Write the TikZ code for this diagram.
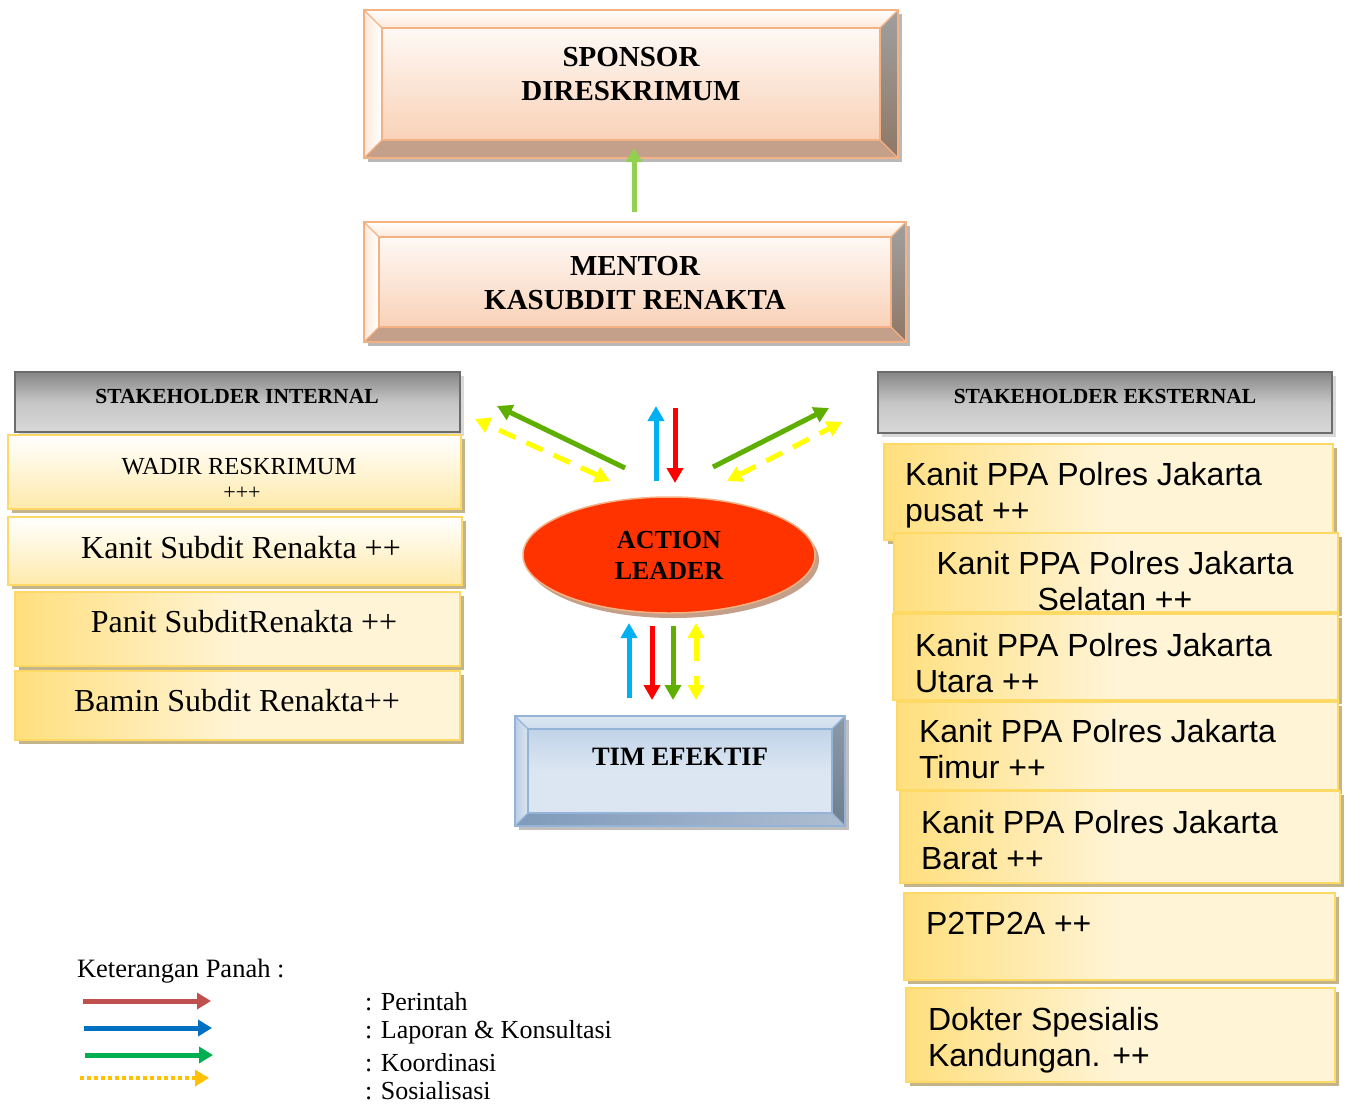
\documentclass[tikz,border=0pt]{standalone}
\usepackage{fontspec}
\setmainfont{Liberation Serif}
\newfontfamily\arial{Liberation Sans}
\usetikzlibrary{arrows.meta,shadows,shapes.geometric,calc}
\definecolor{peach}{HTML}{F4B183}
\definecolor{peachface}{HTML}{F8CBAD}
\definecolor{peachlight}{HTML}{FDE9D9}
\definecolor{peachbot}{HTML}{C4A08A}
\definecolor{peachrt}{HTML}{8F7866}
\definecolor{ygold}{HTML}{FFD966}
\definecolor{ycream}{HTML}{FFF4D6}
\definecolor{yshadow}{HTML}{C4B48A}
\definecolor{bedge}{HTML}{95B3D7}
\definecolor{bface}{HTML}{DCE6F2}
\definecolor{bface2}{HTML}{B9CDE5}
\definecolor{bbot}{HTML}{7F9ABB}
\definecolor{brt}{HTML}{6F7F90}
\definecolor{cblue}{HTML}{00B0F0}
\definecolor{cred}{HTML}{FF0000}
\definecolor{cgreen}{HTML}{5FAF00}
\definecolor{cyellow}{HTML}{FFFF00}
\definecolor{lgreen}{HTML}{92D050}
\definecolor{alred}{HTML}{FF3300}
\definecolor{lgred}{HTML}{C0504D}
\definecolor{lgblue}{HTML}{0070C0}
\definecolor{lggreen}{HTML}{00B050}
\definecolor{lgorange}{HTML}{FFC000}
\newcommand\mkbox[6]{%
  \pgfmathsetmacro\bw{#4-#2}\pgfmathsetmacro\bh{#5-#3}%
  \pgfmathsetmacro\bx{(#2+#4)/2}\pgfmathsetmacro\by{(#3+#5)/2}%
  \node[#6, minimum width=\bw pt, minimum height=\bh pt] (#1) at (\bx,\by) {};}
\newcommand\bevel[7]{%
  \path[#3] (#1.north west) -- (#1.north east) -- ([shift={(-#2pt,-#2pt)}]#1.north east) -- ([shift={(#2pt,-#2pt)}]#1.north west) -- cycle;
  \path[#4] (#1.north west) -- ([shift={(#2pt,-#2pt)}]#1.north west) -- ([shift={(#2pt,#2pt)}]#1.south west) -- (#1.south west) -- cycle;
  \path[#5] (#1.north east) -- ([shift={(-#2pt,-#2pt)}]#1.north east) -- ([shift={(-#2pt,#2pt)}]#1.south east) -- (#1.south east) -- cycle;
  \path[#6] (#1.south west) -- ([shift={(#2pt,#2pt)}]#1.south west) -- ([shift={(-#2pt,#2pt)}]#1.south east) -- (#1.south east) -- cycle;
  \draw[#7, line width=2pt] (#1.north west) rectangle (#1.south east);
  \draw[#7, line width=1.5pt] ([shift={(#2pt,-#2pt)}]#1.north west) rectangle ([shift={(-#2pt,#2pt)}]#1.south east);
  \draw[#7, line width=1.2pt] (#1.north west) -- ++(#2pt,-#2pt) (#1.north east) -- ++(-#2pt,-#2pt)
     (#1.south west) -- ++(#2pt,#2pt) (#1.south east) -- ++(-#2pt,#2pt);}
\begin{document}
\begin{tikzpicture}[x=1pt,y=-1pt,
  fs/.style 2 args={font=\fontsize{#1}{#2}\selectfont},
  fsb/.style 2 args={font=\fontsize{#1}{#2}\selectfont\bfseries},
  fsa/.style 2 args={font=\arial\fontsize{#1}{#2}\selectfont},
  txt/.style={inner sep=0pt, outer sep=0pt},
  basebox/.style={inner sep=0pt, outer sep=0pt, rectangle},
  peachbox/.style={basebox, top color=white, bottom color=peachface, general shadow={fill=gray!55, shadow xshift=4pt, shadow yshift=-4pt}},
  bluebox/.style={basebox, top color=bface2, bottom color=bface, middle color=bface, general shadow={fill=gray!50, shadow xshift=4pt, shadow yshift=-4pt}},
  ybox/.style={basebox, draw=ygold, line width=2.5pt, general shadow={fill=yshadow, shadow xshift=4pt, shadow yshift=-4pt}},
  yboxv/.style={ybox, top color=white, bottom color=ygold!55},
  yboxh/.style={ybox, left color=ygold!85, right color=ycream, middle color=ycream},
  gbox/.style={basebox, draw=gray!85!black, line width=2pt, top color=gray!95, bottom color=gray!30, middle color=gray!45, general shadow={fill=gray!30, shadow xshift=4pt, shadow yshift=-4pt}},
  arr/.style={line width=5pt, -{Triangle[width=16pt,length=15pt]}},
  darr/.style={line width=5pt, {Triangle[width=16pt,length=15pt]}-{Triangle[width=16pt,length=15pt]}, dash pattern=on 18pt off 12pt},
  larr/.style={line width=5pt, -{Triangle[width=16pt,length=14pt]}}
]
\useasboundingbox (0,0) rectangle (1345,1104);
\fill[white] (0,0) rectangle (1345,1104);

% Sponsor
\mkbox{sponsor}{364}{10}{898}{158}{peachbox}
\bevel{sponsor}{18}{top color=white,bottom color=peachlight}{left color=peachlight,right color=white}{top color=gray!75,bottom color=peachrt}{fill=peachbot}{peach}
\node[txt, fsb={29}{34}, align=center] (sponsortxt) at (631,74) {SPONSOR\\DIRESKRIMUM};

% Mentor
\mkbox{mentor}{364}{222}{906}{342}{peachbox}
\bevel{mentor}{15}{top color=white,bottom color=peachlight}{left color=peachlight,right color=white}{top color=gray!75,bottom color=peachrt}{fill=peachbot}{peach}
\node[txt, fsb={29}{34}, align=center] (mentortxt) at (635,283) {MENTOR\\KASUBDIT RENAKTA};

\coordinate (gstart) at ($(mentor.north)+(-1pt,10pt)$);
\coordinate (gtip) at ($(sponsor.south -| gstart)+(0pt,10pt)$);
\draw[line width=5pt, lgreen, -{Triangle[width=16pt,length=14pt]}] (gstart) -- (gtip);

% Stakeholder internal
\mkbox{sint}{15}{372}{460}{432}{gbox}
\node[txt, fsb={21.5}{24}] (sinttxt) at (237,396) {STAKEHOLDER INTERNAL};
\mkbox{wadir}{8}{435}{461}{509}{yboxv}
\node[txt, fs={24.5}{27}] (wadirtxt) at (239,467) {WADIR RESKRIMUM};
\node[txt, fs={22}{24}] (wadirplus) at (242,493) {+++};
\mkbox{kanit}{8}{517}{462}{585}{yboxv}
\node[txt, fs={32}{36}] (kanittxt) at (241,548) {Kanit Subdit Renakta ++};
\mkbox{panit}{15}{592}{460}{666}{yboxh}
\node[txt, fs={32}{36}] (panittxt) at (244,622) {Panit SubditRenakta ++};
\mkbox{bamin}{15}{671}{460}{740}{yboxh}
\node[txt, fs={32}{36}] (bamintxt) at (237,701) {Bamin Subdit Renakta++};

% Stakeholder eksternal
\mkbox{sext}{878}{372}{1332}{433}{gbox}
\node[txt, fsb={21.5}{24}] (sexttxt) at (1105,396) {STAKEHOLDER EKSTERNAL};
\mkbox{e1}{884}{444}{1333}{540}{yboxh}
\node[txt, fsa={32}{36}, align=left, anchor=west] (e1txt) at (905,495) {Kanit PPA Polres Jakarta\\pusat ++};
\mkbox{e2}{894}{533}{1338}{612}{yboxh}
\node[txt, fsa={32}{36}, align=center] (e2txt) at (1115,581) {Kanit PPA Polres Jakarta\\Selatan ++};
\mkbox{e3}{893}{614}{1338}{700}{yboxh}
\node[txt, fsa={32}{36}, align=left, anchor=west] (e3txt) at (915,663) {Kanit PPA Polres Jakarta\\Utara ++};
\mkbox{e4}{897}{702}{1338}{790}{yboxh}
\node[txt, fsa={32}{36}, align=left, anchor=west] (e4txt) at (919,749) {Kanit PPA Polres Jakarta\\Timur ++};
\mkbox{e5}{900}{791}{1340}{883}{yboxh}
\node[txt, fsa={32}{36}, align=left, anchor=west] (e5txt) at (921,840) {Kanit PPA Polres Jakarta\\Barat ++};
\mkbox{e6}{904}{893}{1335}{980}{yboxh}
\node[txt, fsa={32}{36}, anchor=west] (e6txt) at (926,923) {P2TP2A ++};
\mkbox{e7}{906}{988}{1335}{1082}{yboxh}
\node[txt, fsa={32}{36}, align=left, anchor=west] (e7txt) at (928,1040) {Dokter Spesialis\\Kandungan. ++};

% Action leader
\node[ellipse, minimum width=292pt, minimum height=116pt, inner sep=0pt, fill=alred, draw=peach, line width=1.5pt,
  general shadow={fill=peachbot, shadow xshift=4pt, shadow yshift=-5pt},
  fsb={26}{31}, align=center] (al) at (669,555) {ACTION\\LEADER};

% Tim efektif
\mkbox{tim}{515}{716}{845}{826}{bluebox}
\bevel{tim}{13}{top color=bface,bottom color=bface2!70}{left color=bface2,right color=bface}{top color=brt!80,bottom color=brt}{left color=bbot,right color=bface2!80!gray}{bedge}
\node[txt, fsb={26.5}{30}] (timtxt) at (680,757) {TIM EFEKTIF};

% central arrows
\coordinate (gl1) at (625,468); \coordinate (gl2) at (497,406);
\coordinate (yl1) at (610,481); \coordinate (yl2) at (475,419);
\coordinate (bu1) at (656,481); \coordinate (bu2) at (656,406);
\coordinate (rd1) at (675,408); \coordinate (rd2) at (675,483);
\coordinate (gr1) at (713,467); \coordinate (gr2) at (829,408);
\coordinate (yr1) at (727,481); \coordinate (yr2) at (842,422);
\draw[arr, cgreen] (gl1) -- (gl2);
\draw[darr, cyellow] (yl1) -- (yl2);
\draw[arr, cblue] (bu1) -- (bu2);
\draw[arr, cred] (rd1) -- (rd2);
\draw[arr, cgreen] (gr1) -- (gr2);
\draw[darr, cyellow] (yr1) -- (yr2);
\coordinate (bb1) at (629,698); \coordinate (bb2) at (629,623);
\coordinate (br1) at (652,626); \coordinate (br2) at (652,700);
\coordinate (bg1) at (673,626); \coordinate (bg2) at (673,700);
\coordinate (by1) at (696,623); \coordinate (by2) at (696,700);
\draw[arr, cblue] (bb1) -- (bb2);
\draw[arr, cred] (br1) -- (br2);
\draw[arr, cgreen] (bg1) -- (bg2);
\draw[line width=5pt, cyellow, {Triangle[width=16pt,length=15pt]}-{Triangle[width=16pt,length=15pt]}, dash pattern=on 24pt off 15pt] (by1) -- (by2);

% legend
\node[txt, fs={26.5}{30}, anchor=west] (legtitle) at (77,971) {Keterangan Panah :};
\coordinate (l1a) at (83,1001); \coordinate (l1b) at (211,1001);
\coordinate (l2a) at (84,1028); \coordinate (l2b) at (212,1028);
\coordinate (l3a) at (85,1055); \coordinate (l3b) at (213,1055);
\coordinate (l4a) at (80,1078); \coordinate (l4b) at (209,1078);
\draw[larr, lgred] (l1a) -- (l1b);
\draw[larr, lgblue] (l2a) -- (l2b);
\draw[larr, lggreen] (l3a) -- (l3b);
\draw[line width=4pt, lgorange, dash pattern=on 4pt off 3pt, -{Triangle[width=16pt,length=14pt]}] (l4a) -- (l4b);
\node[txt, fs={26}{30}, anchor=west] (lg1) at (365,1002) {: Perintah};
\node[txt, fs={26}{30}, anchor=west] (lg2) at (365,1032) {: Laporan \& Konsultasi};
\node[txt, fs={26}{30}, anchor=west] (lg3) at (365,1063) {: Koordinasi};
\node[txt, fs={26}{30}, anchor=west] (lg4) at (365,1091) {: Sosialisasi};
\end{tikzpicture}
\end{document}
